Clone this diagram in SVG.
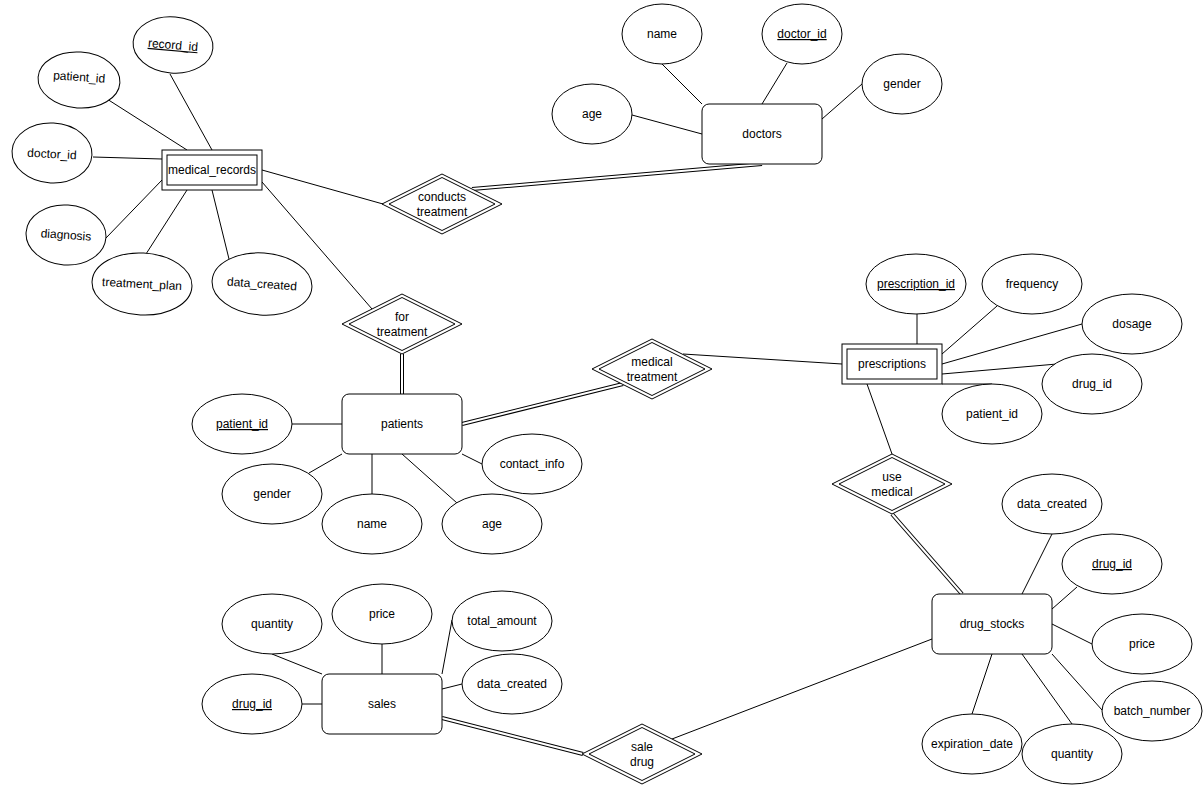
<svg xmlns="http://www.w3.org/2000/svg" width="1204" height="785" viewBox="0 0 1204 785">
<style>
.e{fill:#fff;stroke:#000;stroke-width:1}
.t{font-family:"Liberation Sans",Arial,sans-serif;font-size:12px;text-anchor:middle;fill:#000}
.u{text-decoration:underline}
.ln line{stroke:#000;stroke-width:1}
.d1{stroke:#000;stroke-width:4}
.d2{stroke:#fff;stroke-width:2}
</style>
<rect width="1204" height="785" fill="#fff"/>
<g id="connectors">
<g class="ln">
<line x1="170" y1="74" x2="212" y2="150"/>
<line x1="107" y1="99" x2="187" y2="150"/>
<line x1="93" y1="157" x2="162" y2="159"/>
<line x1="106" y1="238" x2="162" y2="180"/>
<line x1="146" y1="254" x2="187" y2="190"/>
<line x1="229" y1="259" x2="212" y2="190"/>
<line x1="262" y1="170" x2="383" y2="204"/>
<line x1="262" y1="182" x2="372" y2="309"/>
<line x1="662" y1="64" x2="702" y2="104"/>
<line x1="787" y1="63" x2="762" y2="104"/>
<line x1="862" y1="84" x2="822" y2="119"/>
<line x1="632" y1="115" x2="702" y2="134"/>
<line x1="292" y1="424" x2="342" y2="424"/>
<line x1="309" y1="473" x2="342" y2="454"/>
<line x1="372" y1="494" x2="372" y2="454"/>
<line x1="457" y1="503" x2="402" y2="454"/>
<line x1="482" y1="464" x2="462" y2="454"/>
<line x1="683" y1="354" x2="842" y2="364"/>
<line x1="917" y1="314" x2="917" y2="344"/>
<line x1="997" y1="306" x2="942" y2="354"/>
<line x1="1082" y1="324" x2="942" y2="364"/>
<line x1="1057" y1="364" x2="942" y2="374"/>
<line x1="942" y1="384" x2="992" y2="384"/>
<line x1="867" y1="384" x2="892" y2="454"/>
<line x1="1052" y1="534" x2="1022" y2="594"/>
<line x1="1077" y1="587" x2="1052" y2="609"/>
<line x1="1092" y1="644" x2="1052" y2="624"/>
<line x1="1102" y1="710" x2="1052" y2="654"/>
<line x1="1072" y1="724" x2="1022" y2="654"/>
<line x1="972" y1="714" x2="992" y2="654"/>
<line x1="932" y1="639" x2="672" y2="739"/>
<line x1="272" y1="654" x2="322" y2="674"/>
<line x1="382" y1="644" x2="382" y2="674"/>
<line x1="452" y1="620" x2="442" y2="674"/>
<line x1="462" y1="684" x2="442" y2="689"/>
<line x1="302" y1="704" x2="322" y2="704"/>
</g>
<g>
<line class="d1" x1="472" y1="189" x2="762" y2="164"/><line class="d2" x1="472" y1="189" x2="762" y2="164"/>
<line class="d1" x1="402" y1="354" x2="402" y2="394"/><line class="d2" x1="402" y1="354" x2="402" y2="394"/>
<line class="d1" x1="462" y1="424" x2="623" y2="384"/><line class="d2" x1="462" y1="424" x2="623" y2="384"/>
<line class="d1" x1="892" y1="514" x2="962" y2="594"/><line class="d2" x1="892" y1="514" x2="962" y2="594"/>
<line class="d1" x1="442" y1="718" x2="583" y2="754"/><line class="d2" x1="442" y1="718" x2="583" y2="754"/>
</g>
</g>

<g id="medical_records">
<rect class="e" x="162" y="150" width="100" height="40"/>
<rect class="e" x="167" y="155" width="90" height="30"/>
<text class="t" x="212" y="174">medical_records</text>
</g>
<g id="mr_record_id" transform="rotate(5 173 45)">
<ellipse class="e" cx="173" cy="45" rx="40" ry="28"/>
<text class="t u" x="173" y="49">record_id</text>
</g>
<g id="mr_patient_id" transform="rotate(4 79 80)">
<ellipse class="e" cx="79" cy="80" rx="41" ry="28"/>
<text class="t" x="79" y="81">patient_id</text>
</g>
<g id="mr_doctor_id" transform="rotate(3 52 153)">
<ellipse class="e" cx="52" cy="153" rx="40" ry="30"/>
<text class="t" x="52" y="158">doctor_id</text>
</g>
<g id="mr_diagnosis" transform="rotate(4 66 235)">
<ellipse class="e" cx="66" cy="235" rx="40" ry="30"/>
<text class="t" x="66" y="239">diagnosis</text>
</g>
<g id="mr_treatment_plan" transform="rotate(3 142 284)">
<ellipse class="e" cx="142" cy="284" rx="50" ry="31"/>
<text class="t" x="142" y="288">treatment_plan</text>
</g>
<g id="mr_data_created" transform="rotate(4 262 284)">
<ellipse class="e" cx="262" cy="284" rx="50" ry="31"/>
<text class="t" x="262" y="288">data_created</text>
</g>

<g id="conducts_treatment">
<polygon class="e" points="382,204 442,174 502,204 442,234"/>
<polygon class="e" points="389,204 442,177.5 495,204 442,230.5"/>
<text class="t" x="442" y="201">conducts</text>
<text class="t" x="442" y="216">treatment</text>
</g>
<g id="for_treatment">
<polygon class="e" points="342,324 402,294 462,324 402,354"/>
<polygon class="e" points="349,324 402,297.5 455,324 402,350.5"/>
<text class="t" x="402" y="321">for</text>
<text class="t" x="402" y="336">treatment</text>
</g>
<g id="medical_treatment">
<polygon class="e" points="592,369 652,339 712,369 652,399"/>
<polygon class="e" points="599,369 652,342.5 705,369 652,395.5"/>
<text class="t" x="652" y="366">medical</text>
<text class="t" x="652" y="381">treatment</text>
</g>
<g id="use_medical">
<polygon class="e" points="832,484 892,454 952,484 892,514"/>
<polygon class="e" points="839,484 892,457.5 945,484 892,510.5"/>
<text class="t" x="892" y="481">use</text>
<text class="t" x="892" y="496">medical</text>
</g>
<g id="sale_drug">
<polygon class="e" points="582,754 642,724 702,754 642,784"/>
<polygon class="e" points="589,754 642,727.5 695,754 642,780.5"/>
<text class="t" x="642" y="751">sale</text>
<text class="t" x="642" y="766">drug</text>
</g>

<g id="doctors">
<rect class="e" x="702" y="104" width="120" height="60" rx="7"/>
<text class="t" x="762" y="138">doctors</text>
</g>
<g id="d_name"><ellipse class="e" cx="662" cy="34" rx="40" ry="30"/><text class="t" x="662" y="38">name</text></g>
<g id="d_doctor_id"><ellipse class="e" cx="802" cy="34" rx="40" ry="30"/><text class="t u" x="802" y="38">doctor_id</text></g>
<g id="d_gender"><ellipse class="e" cx="902" cy="84" rx="40" ry="30"/><text class="t" x="902" y="88">gender</text></g>
<g id="d_age"><ellipse class="e" cx="592" cy="114" rx="40" ry="30"/><text class="t" x="592" y="118">age</text></g>

<g id="patients">
<rect class="e" x="342" y="394" width="120" height="60" rx="7"/>
<text class="t" x="402" y="428">patients</text>
</g>
<g id="p_patient_id"><ellipse class="e" cx="242" cy="424" rx="50" ry="30"/><text class="t u" x="242" y="428">patient_id</text></g>
<g id="p_gender"><ellipse class="e" cx="272" cy="494" rx="50" ry="30"/><text class="t" x="272" y="498">gender</text></g>
<g id="p_name"><ellipse class="e" cx="372" cy="524" rx="50" ry="30"/><text class="t" x="372" y="528">name</text></g>
<g id="p_age"><ellipse class="e" cx="492" cy="524" rx="50" ry="30"/><text class="t" x="492" y="528">age</text></g>
<g id="p_contact_info"><ellipse class="e" cx="532" cy="464" rx="50" ry="30"/><text class="t" x="532" y="468">contact_info</text></g>

<g id="prescriptions">
<rect class="e" x="842" y="344" width="100" height="40"/>
<rect class="e" x="847" y="349" width="90" height="30"/>
<text class="t" x="892" y="368">prescriptions</text>
</g>
<g id="pr_prescription_id"><ellipse class="e" cx="916" cy="284" rx="50" ry="30"/><text class="t u" x="916" y="288">prescription_id</text></g>
<g id="pr_frequency"><ellipse class="e" cx="1032" cy="284" rx="50" ry="30"/><text class="t" x="1032" y="288">frequency</text></g>
<g id="pr_dosage"><ellipse class="e" cx="1132" cy="324" rx="50" ry="30"/><text class="t" x="1132" y="328">dosage</text></g>
<g id="pr_drug_id"><ellipse class="e" cx="1092" cy="384" rx="50" ry="30"/><text class="t" x="1092" y="388">drug_id</text></g>
<g id="pr_patient_id"><ellipse class="e" cx="992" cy="414" rx="50" ry="30"/><text class="t" x="992" y="418">patient_id</text></g>

<g id="drug_stocks">
<rect class="e" x="932" y="594" width="120" height="60" rx="7"/>
<text class="t" x="992" y="628">drug_stocks</text>
</g>
<g id="ds_data_created"><ellipse class="e" cx="1052" cy="504" rx="50" ry="30"/><text class="t" x="1052" y="508">data_created</text></g>
<g id="ds_drug_id"><ellipse class="e" cx="1112" cy="564" rx="50" ry="30"/><text class="t u" x="1112" y="568">drug_id</text></g>
<g id="ds_price"><ellipse class="e" cx="1142" cy="644" rx="50" ry="30"/><text class="t" x="1142" y="648">price</text></g>
<g id="ds_batch_number"><ellipse class="e" cx="1152" cy="711" rx="50" ry="30"/><text class="t" x="1152" y="715">batch_number</text></g>
<g id="ds_quantity"><ellipse class="e" cx="1072" cy="754" rx="50" ry="30"/><text class="t" x="1072" y="758">quantity</text></g>
<g id="ds_expiration_date"><ellipse class="e" cx="972" cy="744" rx="50" ry="30"/><text class="t" x="972" y="748">expiration_date</text></g>

<g id="sales">
<rect class="e" x="322" y="674" width="120" height="60" rx="7"/>
<text class="t" x="382" y="708">sales</text>
</g>
<g id="s_quantity"><ellipse class="e" cx="272" cy="624" rx="50" ry="30"/><text class="t" x="272" y="628">quantity</text></g>
<g id="s_price"><ellipse class="e" cx="382" cy="614" rx="50" ry="30"/><text class="t" x="382" y="618">price</text></g>
<g id="s_total_amount"><ellipse class="e" cx="502" cy="621" rx="50" ry="30"/><text class="t" x="502" y="625">total_amount</text></g>
<g id="s_data_created"><ellipse class="e" cx="512" cy="684" rx="50" ry="30"/><text class="t" x="512" y="688">data_created</text></g>
<g id="s_drug_id"><ellipse class="e" cx="252" cy="704" rx="50" ry="30"/><text class="t u" x="252" y="708">drug_id</text></g>
</svg>
